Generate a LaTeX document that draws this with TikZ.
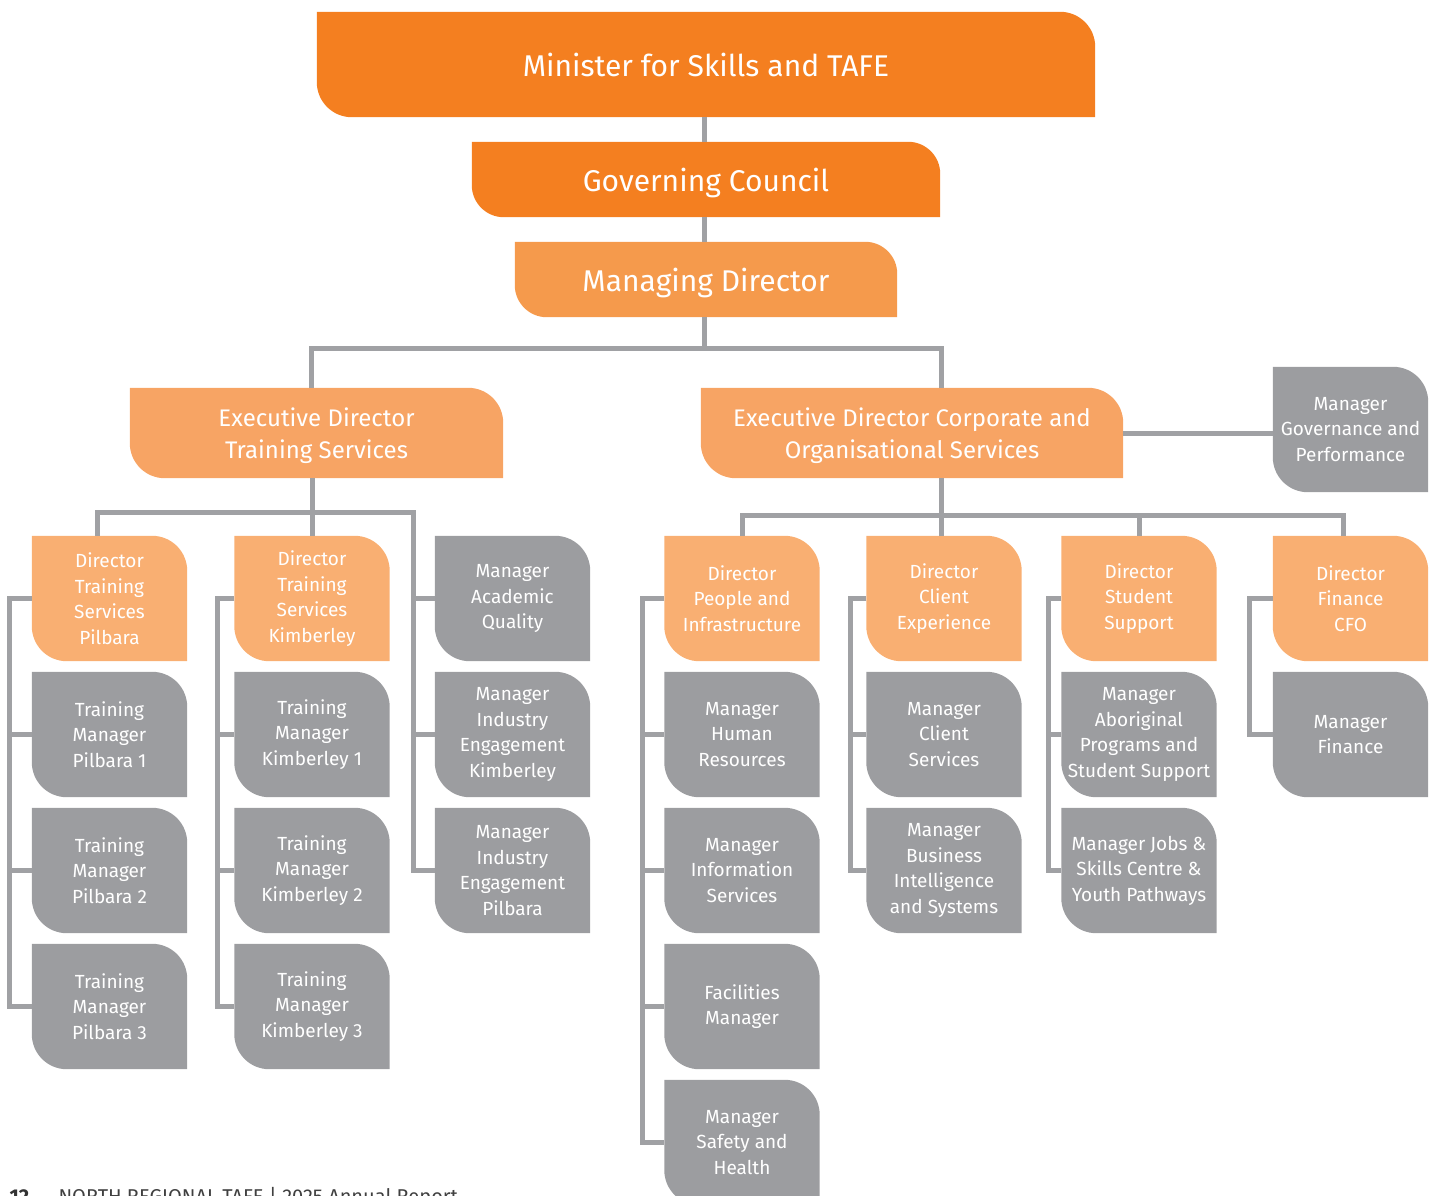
\documentclass[tikz,border=0pt]{standalone}
\usepackage{fontspec}
\setmainfont{Fira Sans}
\usetikzlibrary{calc}
\pgfdeclarelayer{bg}
\pgfsetlayers{bg,main}
\definecolor{tafedark}{HTML}{F47F20}
\definecolor{tafemid}{HTML}{F59A4C}
\definecolor{tafeexec}{HTML}{F7A464}
\definecolor{tafelight}{HTML}{F9AF72}
\definecolor{tafegray}{HTML}{9C9DA0}
\definecolor{tafeline}{HTML}{A0A1A4}
\tikzset{ box/.style = { rectangle % any unit
        , inner sep = 0pt
        , text = white
        , align = center
        }
        , unit/.style = { box % small unit box
        , minimum width = 155
        , minimum height = 125
        , font = \fontsize{19}{25.5}\selectfont
        }
        , exec/.style = { box % executive box
        , minimum height = 90
        , text depth = 0pt
        , font = \fontsize{24}{32}\selectfont
        }
        , head/.style = { box % top row
        , text depth = 0pt
        , font = \fontsize{30}{36}\selectfont
        }
        , link/.style = { draw = tafeline % connector
        , line width = 5pt
        }
        }

\begin{document}
\begin{tikzpicture}[x=1pt, y=-1pt]
        \useasboundingbox (0,0) rectangle (1435,1195);

        % top of the chart
        \node [head, minimum width=778, minimum height=105] (min) at (706,64.5) {Minister for Skills and TAFE};
        \node [head, minimum width=468, minimum height=75] (gov) at (706,179.5) {Governing Council};
        \node [head, minimum width=382, minimum height=75] (md) at (706,279.5) {Managing Director};
        \node [exec, minimum width=373] (edt) at (316.5,433) {Executive Director\\Training Services};
        \node [exec, minimum width=422] (edc) at (912,433) {Executive Director Corporate and\\Organisational Services};
        \node [unit] (mgp) at (1350.5,429.5) {Manager\\Governance and\\Performance};

        % training services
        \node [unit] (dtp) at (109.5,598.5) {Director\\Training\\Services\\Pilbara};
        \node [unit] (tmp1) at (109.5,734.5) {Training\\Manager\\Pilbara 1};
        \node [unit] (tmp2) at (109.5,870.5) {Training\\Manager\\Pilbara 2};
        \node [unit] (tmp3) at (109.5,1006.5) {Training\\Manager\\Pilbara 3};
        \node [unit] (dtk) at (312,598.5) {Director\\Training\\Services\\Kimberley};
        \node [unit] (tmk1) at (312,734.5) {Training\\Manager\\Kimberley 1};
        \node [unit] (tmk2) at (312,870.5) {Training\\Manager\\Kimberley 2};
        \node [unit] (tmk3) at (312,1006.5) {Training\\Manager\\Kimberley 3};
        \node [unit] (maq) at (512.5,598.5) {Manager\\Academic\\Quality};
        \node [unit] (mik) at (512.5,734.5) {Manager\\Industry\\Engagement\\Kimberley};
        \node [unit] (mip) at (512.5,870.5) {Manager\\Industry\\Engagement\\Pilbara};

        % corporate and organisational services
        \node [unit] (dpi) at (742,598.5) {Director\\People and\\Infrastructure};
        \node [unit] (mhr) at (742,734.5) {Manager\\Human\\Resources};
        \node [unit] (mis) at (742,870.5) {Manager\\Information\\Services};
        \node [unit] (fcm) at (742,1006.5) {Facilities\\Manager};
        \node [unit] (msh) at (742,1142.5) {Manager\\Safety and\\Health};
        \node [unit] (dce) at (944,598.5) {Director\\Client\\Experience};
        \node [unit] (mcs) at (944,734.5) {Manager\\Client\\Services};
        \node [unit] (mbi) at (944,870.5) {Manager\\Business\\Intelligence\\and Systems};
        \node [unit] (dss) at (1139,598.5) {Director\\Student\\Support};
        \node [unit] (mas) at (1139,734.5) {Manager\\Aboriginal\\Programs and\\Student Support};
        \node [unit] (mjs) at (1139,870.5) {Manager Jobs \&\\Skills Centre \&\\Youth Pathways};
        \node [unit] (dfc) at (1350.5,598.5) {Director\\Finance\\CFO};
        \node [unit] (mfi) at (1350.5,734.5) {Manager\\Finance};

        % footer
        \node [anchor=base west, font=\fontsize{20}{22}\selectfont\bfseries, text=black!80] (pg) at (6,1203) {12};
        \node [anchor=base west, font=\fontsize{20}{22}\selectfont, text=black!75] (ft) at (55,1203) {NORTH REGIONAL TAFE | 2025 Annual Report};

        % box shapes
        \begin{pgfonlayer}{bg}
        \foreach \n/\c/\r in {min/tafedark/35, gov/tafedark/32, md/tafemid/32,
                edt/tafeexec/35, edc/tafeexec/35, mgp/tafegray/35,
                dtp/tafelight/35, dtk/tafelight/35, dpi/tafelight/35, dce/tafelight/35, dss/tafelight/35, dfc/tafelight/35,
                tmp1/tafegray/35, tmp2/tafegray/35, tmp3/tafegray/35, tmk1/tafegray/35, tmk2/tafegray/35, tmk3/tafegray/35,
                maq/tafegray/35, mik/tafegray/35, mip/tafegray/35, mhr/tafegray/35, mis/tafegray/35, fcm/tafegray/35,
                msh/tafegray/35, mcs/tafegray/35, mbi/tafegray/35, mas/tafegray/35, mjs/tafegray/35, mfi/tafegray/35}
            \fill [\c] (\n.north west) -- ([xshift=-\r]\n.north east) arc [start angle=90, end angle=0, radius=\r pt]
                -- (\n.south east) -- ([xshift=\r]\n.south west) arc [start angle=270, end angle=180, radius=\r pt] -- cycle;
        \end{pgfonlayer}

        % connectors
        \coordinate (hub) at (704,348);
        \coordinate (tbus) at (413,512);
        \coordinate (cbus) at (941,515);
        \draw [link] ([xshift=-2]min.south) -- ([xshift=-2]gov.north);
        \draw [link] ([xshift=-2]gov.south) -- ([xshift=-2]md.north);
        \draw [link] ([xshift=-2]md.south) -- (hub);
        \draw [link] ([xshift=-5]edt.north) |- (hub) -| ([xshift=-3]dce.north |- edc.north);
        \draw [link] (edc.east) -- (edc.east -| mgp.west);

        \draw [link] (dtk.north) -- (dtk.north |- edt.south);
        \draw [link] ([xshift=-12]dtp.north) |- (tbus) |- (mip.west);
        \draw [link] (maq.west) -- ++(-22,0);
        \draw [link] (mik.west) -- ++(-22,0);
        \draw [link] (dtp.west) -- ++(-22,0) |- (tmp3.west);
        \draw [link] (tmp1.west) -- ++(-22,0);
        \draw [link] (tmp2.west) -- ++(-22,0);
        \draw [link] (dtk.west) -- ++(-17,0) |- (tmk3.west);
        \draw [link] (tmk1.west) -- ++(-17,0);
        \draw [link] (tmk2.west) -- ++(-17,0);

        \draw [link] ([xshift=-3]dce.north) -- ([xshift=-3]dce.north |- edc.south);
        \draw [link] (dpi.north) |- (cbus) -| ([xshift=-7]dfc.north);
        \draw [link] (dss.north) -- (dss.north |- cbus);
        \draw [link] (dpi.west) -- ++(-22,0) |- (msh.west);
        \draw [link] (mhr.west) -- ++(-22,0);
        \draw [link] (mis.west) -- ++(-22,0);
        \draw [link] (fcm.west) -- ++(-22,0);
        \draw [link] (dce.west) -- ++(-16,0) |- (mbi.west);
        \draw [link] (mcs.west) -- ++(-16,0);
        \draw [link] (dss.west) -- ++(-13,0) |- (mjs.west);
        \draw [link] (mas.west) -- ++(-13,0);
        \draw [link] (dfc.west) -- ++(-23,0) |- (mfi.west);
\end{tikzpicture}
\end{document}
